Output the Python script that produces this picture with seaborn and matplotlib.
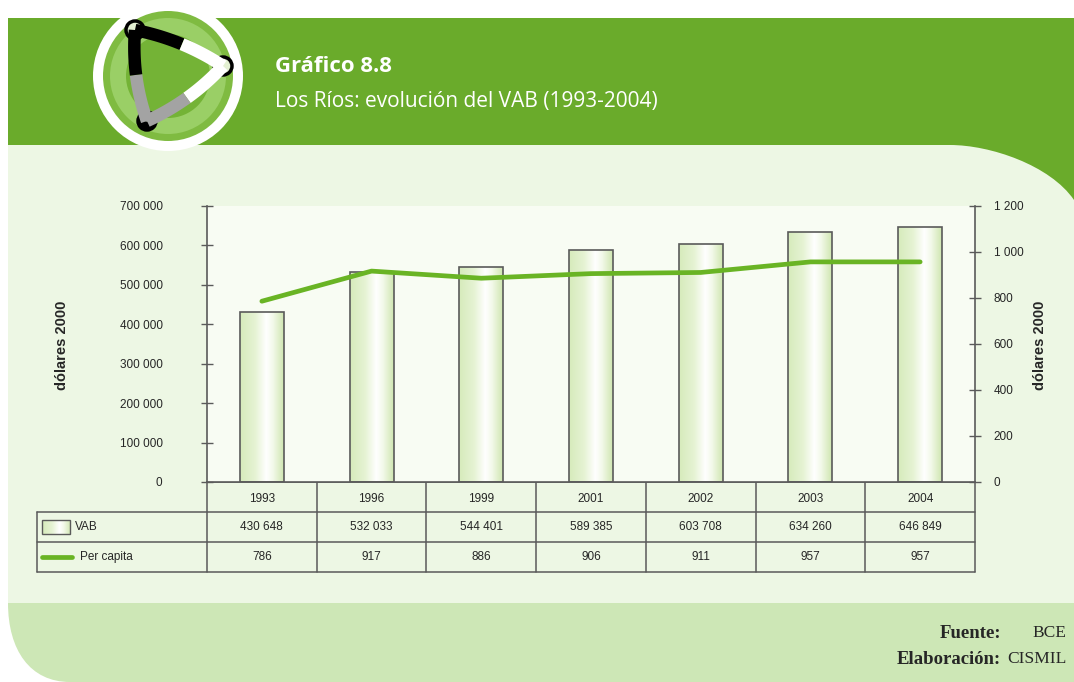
import numpy as np
import pandas as pd
import seaborn as sns
import matplotlib.pyplot as plt
from matplotlib.path import Path
from matplotlib.patches import PathPatch, Rectangle, Circle
from matplotlib.colors import LinearSegmentedColormap

# datos del grafico
years = ["1993", "1996", "1999", "2001", "2002", "2003", "2004"]
vab = [430648, 532033, 544401, 589385, 603708, 634260, 646849]
per_capita = [786, 917, 886, 906, 911, 957, 957]
row_labels = ["VAB", "Per capita"]
left_ticks = [0, 100000, 200000, 300000, 400000, 500000, 600000, 700000]
right_ticks = [0, 200, 400, 600, 800, 1000, 1200]

GREEN_HEAD = "#6aab2b"
PALE = "#edf7e4"
PLOT_BG = "#f8fcf3"
BAND = "#cde7b6"
LINE = "#69b424"
EDGE = "#5a5a5a"


def fmt(v):
    return f"{v:,}".replace(",", " ")


sns.set_style("white")
plt.rcParams["font.family"] = ["Liberation Sans", "DejaVu Sans"]

fig = plt.figure(figsize=(10.74, 6.82), dpi=100, facecolor="white")

# fondo decorativo (coordenadas en pixeles)
bg = fig.add_axes([0, 0, 1, 1], zorder=0)
bg.set_xlim(0, 1074)
bg.set_ylim(682, 0)
bg.axis("off")
bg.add_patch(Rectangle((8, 18), 1066, 190, color=GREEN_HEAD, lw=0))
pale = Path([(8, 145), (950, 145), (990, 145), (1050, 165), (1074, 200),
             (1074, 603), (8, 603), (8, 145)],
            [Path.MOVETO, Path.LINETO, Path.CURVE4, Path.CURVE4, Path.CURVE4,
             Path.LINETO, Path.LINETO, Path.CLOSEPOLY])
bg.add_patch(PathPatch(pale, facecolor=PALE, lw=0))
band = Path([(8, 603), (1074, 603), (1074, 682), (70, 682), (30, 682), (8, 650),
             (8, 603), (8, 603)],
            [Path.MOVETO, Path.LINETO, Path.LINETO, Path.LINETO, Path.CURVE4,
             Path.CURVE4, Path.CURVE4, Path.CLOSEPOLY])
bg.add_patch(PathPatch(band, facecolor=BAND, lw=0))

# logo
cx, cy = 168, 76
bg.add_patch(Circle((cx, cy), 75, color="white", lw=0))
bg.add_patch(Circle((cx, cy), 65, color="#7fbb41", lw=0))
bg.add_patch(Circle((cx, cy), 58, color="#9acf66", lw=0))
bg.add_patch(Circle((cx, cy), 42, color="#74b336", lw=0))
nA, nB, nC = np.array([135, 30]), np.array([223, 66]), np.array([147, 121])
tc = (nA + nB + nC) / 3
t = np.linspace(0, 1, 40)[:, None]
for p0, p1, c0, c1 in [(nA, nB, "black", "white"), (nB, nC, "white", "#a3a3a3"),
                       (nC, nA, "#a3a3a3", "black")]:
    mid = (p0 + p1) / 2
    ctrl = mid + 0.35 * (mid - tc)
    pts = (1 - t) ** 2 * p0 + 2 * (1 - t) * t * ctrl + t ** 2 * p1
    bg.plot(pts[:21, 0], pts[:21, 1], color=c0, lw=9, solid_capstyle="butt")
    bg.plot(pts[20:, 0], pts[20:, 1], color=c1, lw=9, solid_capstyle="butt")
for n, fc in [(nA, "#e3f0d2"), (nB, "#e3f0d2"), (nC, "black")]:
    bg.add_patch(Circle(n, 9, facecolor=fc, edgecolor="black", lw=2.5))
bg.add_patch(Circle(nC + np.array([0, -4]), 4.5, facecolor="#e3f0d2", lw=0))

bg.text(275, 66, "Gráfico 8.8", color="white", fontsize=16, fontweight="bold",
        family=["Open Sans", "DejaVu Sans"], va="center")
bg.text(275, 101, "Los Ríos: evolución del VAB (1993-2004)", color="white",
        fontsize=15, family=["Open Sans", "DejaVu Sans"], va="center")

serif = ["Liberation Serif", "DejaVu Serif"]
bg.text(1001, 633, "Fuente:", ha="right", va="center", fontsize=13.5,
        fontweight="bold", family=serif)
bg.text(1066, 633, "BCE", ha="right", va="center", fontsize=12.5, family=serif)
bg.text(1001, 659, "Elaboración:", ha="right", va="center", fontsize=13.5,
        fontweight="bold", family=serif)
bg.text(1066, 659, "CISMIL", ha="right", va="center", fontsize=12.5, family=serif)

# grafico principal
df = pd.DataFrame({"year": years, "vab": vab, "pc": per_capita})
ax = fig.add_axes([207 / 1074, 1 - 482 / 682, 768 / 1074, 276 / 682], zorder=2)
ax.set_facecolor(PLOT_BG)
sns.barplot(data=df, x="year", y="vab", ax=ax, width=0.4, color="white",
            edgecolor=EDGE, linewidth=1.2, saturation=1)
ax.set_xlim(-0.5, 6.5)
ax.set_ylim(0, 700000)

bar_cmap = LinearSegmentedColormap.from_list(
    "bar", [(0, "#d6ebbb"), (0.35, "#e6f3d4"), (0.6, "#ffffff"),
            (0.75, "#f3f9ea"), (1, "#cfe6b0")])
grad = np.linspace(0, 1, 256)[None, :]
for p in list(ax.patches):
    x0, w, h = p.get_x(), p.get_width(), p.get_height()
    p.set_facecolor("none")
    p.set_zorder(3)
    im = ax.imshow(grad, cmap=bar_cmap, extent=[x0, x0 + w, 0, h],
                   aspect="auto", zorder=2.5)
    im.set_clip_path(p)
ax.set_xlim(-0.5, 6.5)
ax.set_ylim(0, 700000)

ax.set_xticks([])
ax.set_xlabel("")
ax.set_ylabel("")
ax.set_yticks(left_ticks)
ax.set_yticklabels([fmt(t) for t in left_ticks])
ax.tick_params(axis="y", direction="inout", length=8, width=1, color=EDGE,
               pad=28, labelsize=8.5)
for s in ["top", "right"]:
    ax.spines[s].set_visible(False)
for s in ["left", "bottom"]:
    ax.spines[s].set_color(EDGE)
    ax.spines[s].set_linewidth(1.2)

ax2 = ax.twinx()
sns.lineplot(x=range(len(years)), y=per_capita, ax=ax2, color=LINE, lw=3.4)
ax2.set_ylim(0, 1200)
ax2.set_yticks(right_ticks)
ax2.set_yticklabels([fmt(t) for t in right_ticks])
ax2.tick_params(axis="y", direction="inout", length=8, width=1, color=EDGE,
                pad=9.5, labelsize=8.5)
for s in ["top", "left", "bottom"]:
    ax2.spines[s].set_visible(False)
ax2.spines["right"].set_color(EDGE)
ax2.spines["right"].set_linewidth(1.2)
ax2.set_xlim(-0.5, 6.5)

fig.text(62 / 1074, 1 - 345 / 682, "dólares 2000", rotation=90, ha="center",
         va="center", fontsize=10.5, fontweight="bold")
fig.text(1040 / 1074, 1 - 345 / 682, "dólares 2000", rotation=90, ha="center",
         va="center", fontsize=10.5, fontweight="bold")

# tabla de datos
lab_w = (207 - 37) / (768 / 7)
x_left = -0.5 - lab_w
tax = fig.add_axes([37 / 1074, 110 / 682, 938 / 1074, 90 / 682], zorder=1)
tax.axis("off")
tax.set_xlim(x_left, 6.5)
tax.set_ylim(3, 0)
lkw = dict(color=EDGE, lw=1.1, clip_on=False)
tax.plot([-0.5, 6.5], [0, 0], **lkw)
for yy in [1, 2, 3]:
    tax.plot([x_left, 6.5], [yy, yy], **lkw)
tax.plot([x_left, x_left], [1, 3], **lkw)
for i in range(len(years) + 1):
    tax.plot([i - 0.5, i - 0.5], [0, 3], **lkw)
for i, yr in enumerate(years):
    tax.text(i, 0.55, yr, ha="center", va="center", fontsize=8.5)
    tax.text(i, 1.5, fmt(vab[i]), ha="center", va="center", fontsize=8.5)
    tax.text(i, 2.5, fmt(per_capita[i]), ha="center", va="center", fontsize=8.5)


def px(v):
    return x_left + (v - 37) / (768 / 7)


key = Rectangle((px(42), 1.28), px(70) - px(42), 0.44, facecolor="none",
                edgecolor=EDGE, lw=1, zorder=3)
tax.add_patch(key)
kim = tax.imshow(grad, cmap=bar_cmap, extent=[px(42), px(70), 1.72, 1.28],
                 aspect="auto", zorder=2)
kim.set_clip_path(key)
tax.plot([px(42), px(72)], [2.5, 2.5], color=LINE, lw=3.4)
tax.text(px(75), 1.5, row_labels[0], ha="left", va="center", fontsize=8.5)
tax.text(px(80), 2.5, row_labels[1], ha="left", va="center", fontsize=8.5)
tax.set_xlim(x_left, 6.5)
tax.set_ylim(3, 0)

fig.savefig("out.png", dpi=100, facecolor="white")
